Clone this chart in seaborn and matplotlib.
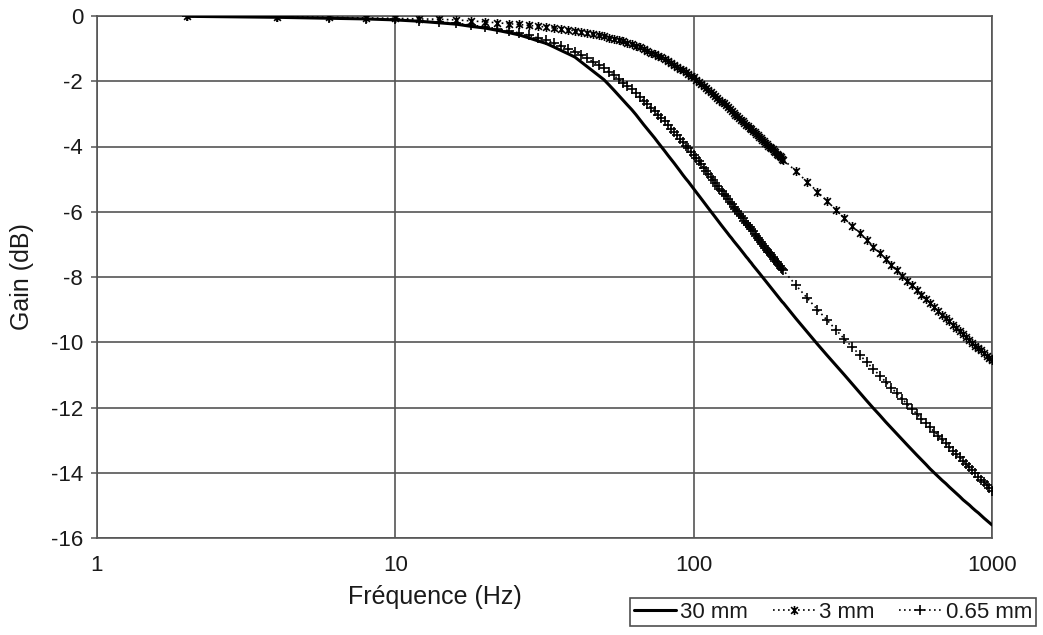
import numpy as np
import pandas as pd
import matplotlib
matplotlib.use("Agg")
import matplotlib.pyplot as plt
from matplotlib.path import Path
import seaborn as sns

# Frequencies (Hz): sampled every 2 Hz up to 200 Hz, then every 20 Hz up to 1000 Hz
freq = list(range(2, 201, 2)) + list(range(220, 1001, 20))

gain_30mm = [
    -0.01, -0.04, -0.07, -0.09, -0.12, -0.16, -0.21, -0.25, -0.32, -0.37,
    -0.44, -0.51, -0.58, -0.67, -0.76, -0.84, -0.95, -1.06, -1.16, -1.26,
    -1.41, -1.55, -1.69, -1.82, -1.95, -2.11, -2.27, -2.43, -2.58, -2.73,
    -2.87, -3.02, -3.18, -3.33, -3.47, -3.61, -3.74, -3.88, -4.01, -4.14,
    -4.27, -4.39, -4.51, -4.63, -4.75, -4.87, -4.98, -5.08, -5.19, -5.30,
    -5.40, -5.50, -5.60, -5.70, -5.80, -5.89, -5.98, -6.07, -6.16, -6.25,
    -6.34, -6.42, -6.50, -6.58, -6.66, -6.74, -6.81, -6.89, -6.96, -7.03,
    -7.10, -7.17, -7.24, -7.31, -7.38, -7.44, -7.51, -7.57, -7.64, -7.70,
    -7.76, -7.82, -7.88, -7.94, -8.00, -8.06, -8.12, -8.17, -8.23, -8.29,
    -8.34, -8.40, -8.45, -8.50, -8.56, -8.61, -8.66, -8.71, -8.76, -8.80,
    -9.27, -9.68, -10.06, -10.40, -10.71, -11.00, -11.28, -11.54, -11.79, -12.02,
    -12.23, -12.44, -12.63, -12.81, -12.99, -13.15, -13.31, -13.46, -13.60, -13.74,
    -13.88, -14.00, -14.12, -14.23, -14.33, -14.44, -14.54, -14.64, -14.73, -14.83,
    -14.91, -14.99, -15.08, -15.16, -15.23, -15.31, -15.39, -15.46, -15.53, -15.60,
]

gain_3mm = [
    -0.01, -0.03, -0.04, -0.06, -0.07, -0.09, -0.10, -0.12, -0.15, -0.18,
    -0.21, -0.24, -0.26, -0.29, -0.31, -0.34, -0.37, -0.40, -0.43, -0.45,
    -0.49, -0.52, -0.56, -0.59, -0.62, -0.66, -0.70, -0.75, -0.78, -0.82,
    -0.86, -0.91, -0.96, -1.02, -1.07, -1.12, -1.17, -1.22, -1.27, -1.32,
    -1.38, -1.44, -1.50, -1.56, -1.61, -1.67, -1.72, -1.78, -1.83, -1.88,
    -1.95, -2.02, -2.08, -2.15, -2.21, -2.27, -2.34, -2.40, -2.46, -2.51,
    -2.57, -2.63, -2.68, -2.74, -2.80, -2.86, -2.91, -2.97, -3.02, -3.07,
    -3.13, -3.18, -3.23, -3.28, -3.33, -3.38, -3.42, -3.47, -3.52, -3.57,
    -3.61, -3.66, -3.71, -3.75, -3.79, -3.84, -3.88, -3.93, -3.97, -4.01,
    -4.05, -4.09, -4.14, -4.18, -4.22, -4.26, -4.29, -4.33, -4.37, -4.40,
    -4.76, -5.08, -5.39, -5.68, -5.94, -6.20, -6.43, -6.66, -6.87, -7.07,
    -7.26, -7.45, -7.63, -7.80, -7.96, -8.11, -8.26, -8.40, -8.54, -8.67,
    -8.80, -8.92, -9.04, -9.15, -9.26, -9.36, -9.47, -9.57, -9.66, -9.76,
    -9.84, -9.93, -10.01, -10.10, -10.17, -10.25, -10.33, -10.41, -10.48, -10.55,
]

gain_065mm = [
    -0.01, -0.03, -0.06, -0.08, -0.10, -0.14, -0.18, -0.22, -0.28, -0.33,
    -0.39, -0.45, -0.52, -0.59, -0.67, -0.74, -0.83, -0.92, -1.01, -1.09,
    -1.20, -1.30, -1.41, -1.50, -1.60, -1.71, -1.82, -1.94, -2.04, -2.15,
    -2.24, -2.35, -2.48, -2.60, -2.71, -2.81, -2.92, -3.03, -3.13, -3.23,
    -3.35, -3.45, -3.56, -3.66, -3.77, -3.87, -3.97, -4.06, -4.16, -4.25,
    -4.35, -4.45, -4.55, -4.65, -4.75, -4.84, -4.93, -5.02, -5.11, -5.20,
    -5.29, -5.37, -5.45, -5.53, -5.61, -5.69, -5.77, -5.84, -5.92, -5.99,
    -6.06, -6.13, -6.20, -6.27, -6.34, -6.41, -6.47, -6.54, -6.60, -6.67,
    -6.73, -6.80, -6.86, -6.92, -6.98, -7.04, -7.10, -7.16, -7.22, -7.27,
    -7.33, -7.39, -7.44, -7.50, -7.55, -7.60, -7.66, -7.71, -7.76, -7.80,
    -8.25, -8.64, -9.00, -9.32, -9.62, -9.90, -10.15, -10.39, -10.61, -10.82,
    -11.02, -11.21, -11.40, -11.57, -11.74, -11.90, -12.05, -12.20, -12.34, -12.48,
    -12.61, -12.74, -12.86, -12.98, -13.10, -13.21, -13.32, -13.42, -13.53, -13.63,
    -13.73, -13.83, -13.93, -14.02, -14.12, -14.21, -14.29, -14.38, -14.47, -14.55,
]

series_labels = ["30 mm", "3 mm", "0.65 mm"]
x_ticks = [1, 10, 100, 1000]
x_tick_labels = ["1", "10", "100", "1000"]
y_ticks = list(range(-16, 1, 2))

sns.set_theme(style="white")
plt.rcParams["font.family"] = ["Liberation Sans", "DejaVu Sans"]

fig = plt.figure(figsize=(10.43, 6.35), dpi=100)
ax = fig.add_axes([97 / 1043, 1 - 538 / 635, (992 - 97) / 1043, (538 - 16) / 635])
ax.set_facecolor("white")

df = pd.DataFrame({"freq": freq, "g30": gain_30mm, "g3": gain_3mm, "g065": gain_065mm})

# asterisk-like marker (x with a vertical bar), as in the legend
star = Path([(0, -1), (0, 1), (-0.75, -0.75), (0.75, 0.75), (-0.75, 0.75), (0.75, -0.75)],
            [Path.MOVETO, Path.LINETO, Path.MOVETO, Path.LINETO, Path.MOVETO, Path.LINETO])

txt_col = "#1a1a1a"
grid_col = "#555555"
for yv in y_ticks:
    ax.axhline(yv, color=grid_col, lw=1.2, zorder=1)
for xv in x_ticks:
    ax.axvline(xv, color=grid_col, lw=1.2, zorder=1)

sns.lineplot(data=df, x="freq", y="g30", ax=ax, color="black", lw=2.2,
             label=series_labels[0], zorder=3, sort=False)
sns.lineplot(data=df, x="freq", y="g3", ax=ax, color="black", lw=1.2,
             linestyle=(0, (1, 2)), marker=star, markersize=6.5, markeredgewidth=1.2,
             markeredgecolor="black", markerfacecolor="none",
             label=series_labels[1], zorder=4, sort=False)
sns.lineplot(data=df, x="freq", y="g065", ax=ax, color="black", lw=1.2,
             linestyle=(0, (1, 2)), marker="+", markersize=7.5, markeredgewidth=1.2,
             markeredgecolor="black",
             label=series_labels[2], zorder=4, sort=False)

ax.set_xscale("log")
ax.set_xlim(1, 1000)
ax.set_ylim(-16, 0)
ax.set_xticks(x_ticks)
ax.set_xticklabels(x_tick_labels)
ax.xaxis.set_minor_locator(matplotlib.ticker.NullLocator())
ax.set_yticks(y_ticks)
ax.set_yticklabels([str(v) for v in y_ticks])

ax.tick_params(axis="x", length=0, pad=12, labelsize=16, colors=txt_col)
ax.tick_params(axis="y", length=4, width=1.1, direction="out", left=True, pad=6,
               labelsize=16, colors=txt_col)
ax.tick_params(axis="y", color=grid_col)

for sp in ax.spines.values():
    sp.set_color(grid_col)
    sp.set_linewidth(1.2)
    sp.set_visible(True)

ax.set_xlabel("Fréquence (Hz)", fontsize=18, color=txt_col)
ax.set_ylabel("Gain (dB)", fontsize=18, color=txt_col)
ax.xaxis.set_label_coords((435 - 97) / 895, -(597 - 538) / 522)
ax.xaxis.label.set_va("center")
ax.yaxis.set_label_coords(-(97 - 22) / 895, 0.5)
ax.yaxis.label.set_va("center")

leg = ax.legend(loc="center", bbox_to_anchor=(833 / 1043, 1 - 612 / 635),
                bbox_transform=fig.transFigure, ncol=3, frameon=True, fancybox=False,
                edgecolor="#222222", fontsize=16, handlelength=1.9, handletextpad=0.2,
                columnspacing=1.1, borderpad=0.15, numpoints=1, borderaxespad=0)
leg.get_frame().set_linewidth(1.2)
for t in leg.get_texts():
    t.set_color(txt_col)

fig.savefig("out.png", dpi=100, facecolor="white")
